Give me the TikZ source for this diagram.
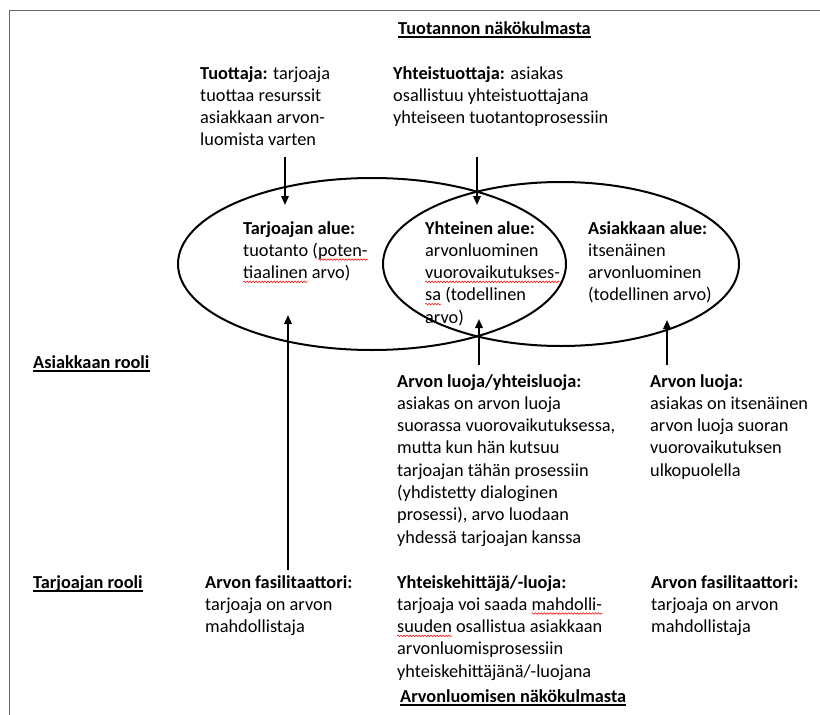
\documentclass[tikz,border=0pt]{standalone}
\usepackage{fontspec}
\setmainfont{Carlito}
\usetikzlibrary{arrows.meta,shapes.geometric,decorations.pathmorphing}

% red wavy underline (spell-check marks) drawn beneath a word
\newsavebox\wavebox
\newcommand\redwave[1]{\sbox\wavebox{#1}\usebox\wavebox\tikz[overlay,baseline=0pt]\draw[red,line width=0.55pt,decorate,decoration={snake,amplitude=0.8pt,segment length=3pt}] (-\the\wd\wavebox,-3.2pt) -- (0pt,-3.2pt);}
% top-aligned text block, baseline of the first line is the reference point
\newcommand\txtblk[1]{\parbox[t]{9cm}{\fontsize{18.3}{22.3}\selectfont\raggedright #1}}

\tikzset{
  lbl/.style={anchor=base west, inner sep=0pt},
  hdr/.style={anchor=base west, inner sep=0pt, font=\fontsize{18.3}{22.3}\selectfont\bfseries},
  arr/.style={line width=1.8pt, -{Triangle[length=9pt,width=7.5pt]}},
  ring/.style={draw, line width=2pt, ellipse, inner sep=0pt},
  frameline/.style={draw=black!60, line width=1.5pt},
  uline/.style={line width=1.1pt}
}

\begin{document}
\begin{tikzpicture}[x=1pt,y=-1pt]
\useasboundingbox (0,0) rectangle (820,715);

% page frame
\draw[frameline] (9.5,715) -- (9.5,10.5) -- (820,10.5);

% the two overlapping areas
\node[ring, minimum width=388pt, minimum height=172pt] (provider) at (372,264) {};
\node[ring, minimum width=356pt, minimum height=164pt] (customer) at (561,264) {};

% headings
\node[hdr] (prodview) at (398,34) {Tuotannon näkökulmasta};
\draw[uline] ([yshift=-3pt]prodview.base west) -- ([yshift=-3pt]prodview.base east);
\node[hdr] (custrole) at (33,368) {Asiakkaan rooli};
\draw[uline] ([yshift=-3pt]custrole.base west) -- ([yshift=-3pt]custrole.base east);
\node[hdr] (provrole) at (33,588) {Tarjoajan rooli};
\draw[uline] ([yshift=-3pt]provrole.base west) -- ([yshift=-3pt]provrole.base east);
\node[hdr] (valview) at (400,702) {Arvonluomisen näkökulmasta};
\draw[uline] ([yshift=-3pt]valview.base west) -- ([yshift=-3pt]valview.base east);

% production side
\node[lbl] (producer) at (200,79) {\txtblk{\textbf{Tuottaja:} tarjoaja\\tuottaa resurssit\\asiakkaan arvon-\\luomista varten}};
\node[lbl] (coproducer) at (393,79) {\txtblk{\textbf{Yhteistuottaja:} asiakas\\osallistuu yhteistuottajana\\yhteiseen tuotantoprosessiin}};

% area texts
\node[lbl] (provarea) at (243,234) {\txtblk{\textbf{Tarjoajan alue:}\\tuotanto (\redwave{poten-}\\\redwave{tiaalinen} arvo)}};
\node[lbl] (jointarea) at (425,234) {\txtblk{\textbf{Yhteinen alue:}\\arvonluominen\\\redwave{vuorovaikutukses-}\\\redwave{sa} (todellinen\\arvo)}};
\node[lbl] (custarea) at (588,234) {\txtblk{\textbf{Asiakkaan alue:}\\itsenäinen\\arvonluominen\\(todellinen arvo)}};

% customer roles
\node[lbl] (cocreator) at (397,387) {\txtblk{\textbf{Arvon luoja/yhteisluoja:}\\asiakas on arvon luoja\\suorassa vuorovaikutuksessa,\\mutta kun hän kutsuu\\tarjoajan tähän prosessiin\\(yhdistetty dialoginen\\prosessi), arvo luodaan\\yhdessä tarjoajan kanssa}};
\node[lbl] (creator) at (650,387) {\txtblk{\textbf{Arvon luoja:}\\asiakas on itsenäinen\\arvon luoja suoran\\vuorovaikutuksen\\ulkopuolella}};

% provider roles
\node[lbl] (facil) at (205,588) {\txtblk{\textbf{Arvon fasilitaattori:}\\tarjoaja on arvon\\mahdollistaja}};
\node[lbl] (codev) at (397,588) {\txtblk{\textbf{Yhteiskehittäjä/-luoja:}\\tarjoaja voi saada \redwave{mahdolli-}\\\redwave{suuden} osallistua asiakkaan\\arvonluomisprosessiin\\yhteiskehittäjänä/-luojana}};
\node[lbl] (facilb) at (651,588) {\txtblk{\textbf{Arvon fasilitaattori:}\\tarjoaja on arvon\\mahdollistaja}};

% arrow end points
\coordinate (producerOut) at (285,157);
\coordinate (provIn) at (285,205);
\coordinate (coproducerOut) at (477,157);
\coordinate (jointIn) at (477,205);
\coordinate (facilOut) at (288,570);
\coordinate (provUp) at (288,315);
\coordinate (cocreatorOut) at (479,365);
\coordinate (jointUp) at (479,319);
\coordinate (creatorOut) at (667,365);
\coordinate (custUp) at (667,320);

\draw[arr] (producerOut) -- (provIn);
\draw[arr] (coproducerOut) -- (jointIn);
\draw[arr] (facilOut) -- (provUp);
\draw[arr] (cocreatorOut) -- (jointUp);
\draw[arr] (creatorOut) -- (custUp);
\end{tikzpicture}
\end{document}
